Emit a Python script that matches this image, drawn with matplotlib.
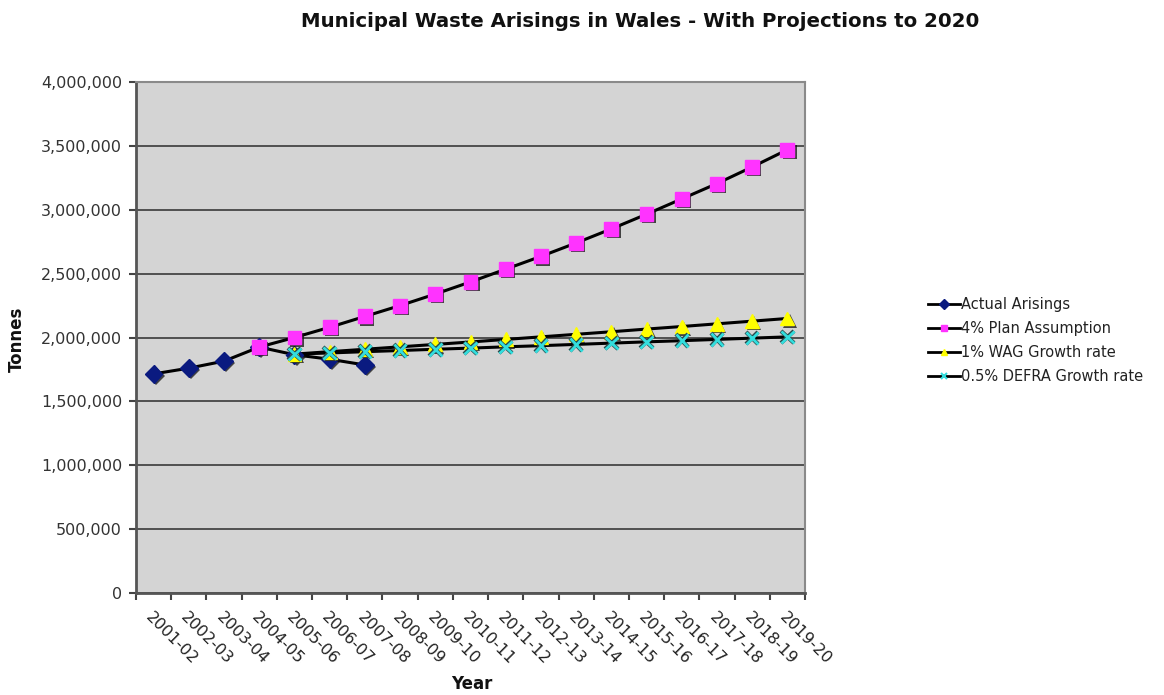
import matplotlib
matplotlib.use("Agg")
import matplotlib.pyplot as plt
import matplotlib.patheffects as pe
from matplotlib.ticker import FuncFormatter, FixedLocator, NullFormatter
from matplotlib.lines import Line2D

years = ["2001-02", "2002-03", "2003-04", "2004-05", "2005-06", "2006-07",
         "2007-08", "2008-09", "2009-10", "2010-11", "2011-12", "2012-13",
         "2013-14", "2014-15", "2015-16", "2016-17", "2017-18", "2018-19",
         "2019-20"]

# Tonnes per year, each series starting at its own first year
actual = [1715000, 1760000, 1815000, 1925000, 1865000, 1830000, 1785000]
plan_4pc = [1925000, 2000000, 2080000, 2165000, 2250000, 2340000, 2435000,
            2535000, 2635000, 2740000, 2850000, 2965000, 3085000, 3205000,
            3335000, 3470000]
wag_1pc = [1870000, 1889000, 1908000, 1927000, 1946000, 1965000, 1985000,
           2005000, 2025000, 2045000, 2066000, 2086000, 2107000, 2128000,
           2149000]
defra_05pc = [1870000, 1879000, 1889000, 1898000, 1908000, 1917000, 1927000,
              1936000, 1946000, 1956000, 1966000, 1975000, 1985000, 1995000,
              2005000]

series = [
    ("Actual Arisings", 0, actual, "D", "#0A1A80", 9),
    ("4% Plan Assumption", 3, plan_4pc, "s", "#FF33FF", 10),
    ("1% WAG Growth rate", 4, wag_1pc, "^", "#FFFF00", 10),
    ("0.5% DEFRA Growth rate", 4, defra_05pc, "x", "#33DDDD", 9),
]

fig = plt.figure(figsize=(11.64, 6.95), dpi=100)
ax = fig.add_axes([136 / 1164, 1 - 593 / 695, (805 - 136) / 1164, (593 - 82) / 695])
ax.set_facecolor("#D4D4D4")

shadow = [pe.SimplePatchShadow(offset=(1.6, -1.6), shadow_rgbFace="#111111", alpha=0.75),
          pe.Normal()]

handles = []
for label, start, vals, marker, color, ms in series:
    xs = list(range(start, start + len(vals)))
    ax.plot(xs, vals, color="black", lw=2.2, zorder=3, solid_capstyle="round")
for label, start, vals, marker, color, ms in series:
    xs = list(range(start, start + len(vals)))
    if marker == "x":
        ax.plot(xs, vals, ls="none", marker=marker, ms=ms, mew=2.0,
                color=color, zorder=4,
                path_effects=[pe.withStroke(linewidth=3.0, foreground="#2A4A4A")])
    else:
        ax.plot(xs, vals, ls="none", marker=marker, ms=ms, mfc=color,
                mec=color, zorder=4, path_effects=shadow)
    handles.append(Line2D([0], [0], color="black", lw=2, marker=marker,
                          ms=5, mfc=color, mec=color, mew=1.5 if marker == "x" else 1,
                          label=label))

n = len(years)
ax.set_xlim(-0.5, n - 0.5)
ax.set_ylim(0, 4000000)

ax.yaxis.set_major_locator(FixedLocator(range(0, 4000001, 500000)))
ax.yaxis.set_major_formatter(FuncFormatter(lambda v, p: f"{int(v):,}"))
ax.grid(axis="y", color="#3A3A3A", lw=1.2)
ax.set_axisbelow(True)

# category boundaries carry the tick marks, category centres carry labels
ax.xaxis.set_major_locator(FixedLocator([i - 0.5 for i in range(n + 1)]))
ax.xaxis.set_major_formatter(NullFormatter())
ax.set_xticks(range(n), minor=True)
ax.set_xticklabels(years, minor=True, rotation=-45, ha="left", va="top",
                   rotation_mode="anchor", fontsize=11.5, color="#222222")
ax.tick_params(axis="x", which="minor", length=0, pad=12)
ax.tick_params(axis="x", which="major", length=5, width=1.5, color="#444444",
               direction="out")
ax.tick_params(axis="y", length=5, width=1.5, color="#444444", labelsize=11.5,
               labelcolor="#333333", pad=5)

for side in ("left", "bottom"):
    ax.spines[side].set_color("#555555")
    ax.spines[side].set_linewidth(2)
for side in ("top", "right"):
    ax.spines[side].set_color("#8A8A8A")
    ax.spines[side].set_linewidth(1.5)

fig.text(640 / 1164, 1 - 27 / 695,
         "Municipal Waste Arisings in Wales - With Projections to 2020",
         ha="center", va="baseline", fontsize=14.2, fontweight="bold",
         color="#111111")
fig.text(17 / 1164, 1 - 339 / 695, "Tonnes", rotation=90, ha="center",
         va="center", fontsize=12, fontweight="bold", color="#111111")
fig.text(472 / 1164, 1 - 684 / 695, "Year", ha="center", va="center",
         fontsize=12, fontweight="bold", color="#111111")

fig.legend(handles=handles, loc="upper left",
           bbox_to_anchor=(922 / 1164, 1 - 291 / 695), frameon=False,
           fontsize=10.5, handlelength=2.2, handletextpad=0.1,
           labelspacing=0.62, labelcolor="#222222", borderaxespad=0)

fig.savefig("out.png", dpi=100)
